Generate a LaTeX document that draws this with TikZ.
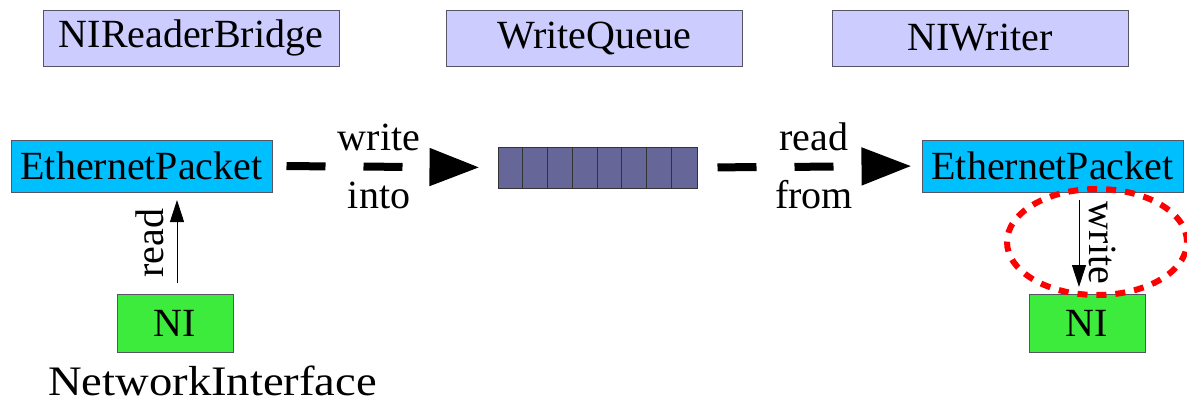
\documentclass[tikz,border=0pt]{standalone}
\usepackage{fontspec}
\setmainfont{Liberation Serif}
\usetikzlibrary{arrows.meta,shapes.geometric,calc}
\definecolor{lav}{HTML}{CCCCFF}
\definecolor{sky}{HTML}{00BFFF}
\definecolor{nigreen}{HTML}{3DEB3D}
\definecolor{qfill}{HTML}{666699}
\definecolor{edge}{HTML}{555566}
\tikzset{
  titlebox/.style={draw=edge,line width=1pt,fill=lav,minimum width=296pt,minimum height=56pt,inner sep=0pt,font=\fontsize{40}{44}\selectfont},
  packet/.style={draw=edge,line width=1pt,fill=sky,minimum width=261pt,minimum height=52pt,inner sep=0pt,font=\fontsize{40}{44}\selectfont},
  nibox/.style={draw=edge,line width=1pt,fill=nigreen,minimum width=116pt,minimum height=58pt,inner sep=0pt,font=\fontsize{40}{44}\selectfont},
  lbl/.style={inner sep=0pt,font=\fontsize{40}{44}\selectfont},
  bigarrow/.style={line width=8pt,dash pattern=on 39pt off 38pt,-{Triangle[length=50pt,width=36pt]}},
  thinarrow/.style={line width=1pt,-{Triangle[length=22pt,width=14pt]}},
}
\begin{document}
\begin{tikzpicture}[x=1pt,y=-1pt]
\useasboundingbox (0,0) rectangle (1187,405);
\node[titlebox] (t1) at (191,38) {NIReaderBridge};
\node[titlebox] (t2) at (594,38) {WriteQueue};
\node[titlebox] (t3) at (980,38) {NIWriter};
\node[packet] (ep1) at (141.5,166) {EthernetPacket};
\node[packet] (ep2) at (1052.5,166) {EthernetPacket};
\node[draw=black!80,line width=1pt,fill=qfill,minimum width=199pt,minimum height=41pt,inner sep=0pt] (q) at (597.5,167.5) {};
\foreach \i in {1,...,7}{
  \draw[black!80,line width=1pt] ($(q.north west)+(\i*24.875,0)$) -- ($(q.south west)+(\i*24.875,0)$);
}
\node[nibox] (ni1) at (175,323) {NI};
\node[nibox] (ni2) at (1087,323) {NI};
\node[inner sep=0pt,anchor=base west,xscale=1.11,font=\fontsize{42}{46}\selectfont] (nilbl) at (48,395) {NetworkInterface};
\draw[bigarrow,shorten <=14pt,shorten >=18pt] (ep1.east) -- (q.west);
\draw[bigarrow,shorten <=20pt,shorten >=10pt] (q.east) -- (ep2.west);
\node[lbl] (w1) at (379,137) {write};
\node[lbl] (w2) at (379,195) {into};
\node[lbl] (r1) at (814,137) {read};
\node[lbl] (r2) at (814,195) {from};
\coordinate (a1s) at (177,283);
\coordinate (a1e) at (177,200);
\draw[thinarrow] (a1s) -- (a1e);
\node[lbl,rotate=90] (rd) at (150,243) {read};
\coordinate (a2s) at (1079,200);
\coordinate (a2e) at (1079,287);
\draw[thinarrow] (a2s) -- (a2e);
\node[lbl,rotate=-90] (wr) at (1103,243) {write};
\node[draw=red,line width=6pt,dash pattern=on 10pt off 9pt,ellipse,minimum width=180pt,minimum height=106pt,inner sep=0pt] (ell) at (1097,242) {};
\end{tikzpicture}
\end{document}
